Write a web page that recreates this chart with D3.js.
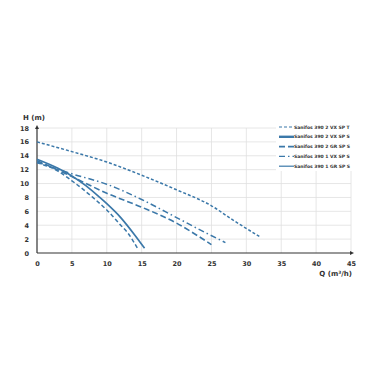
<!DOCTYPE html>
<html lang="en">
<head>
    <meta charset="UTF-8">
    <title>Sanifos curves</title>
    <script src="https://d3js.org/d3.v7.min.js"></script>
    <style>
        body { margin: 0; background: #fff; }
        text { font-family: 'DejaVu Sans', 'Open Sans', sans-serif; fill: #333; }
        .tick text { font-size: 6.5px; font-weight: 700; }
        .legend text { font-size: 4.5px; font-weight: 700; }
    </style>
</head>
<body>
<div id="chart"></div>
<script>
    // series data, [Q, H]
    const seriesNames = [
        "Sanifos 390 2 VX SP T",
        "Sanifos 390 2 VX SP S",
        "Sanifos 390 2 GR SP S",
        "Sanifos 390 1 VX SP S",
        "Sanifos 390 1 GR SP S"
    ];
    const vx2T = [[0, 16], [5, 14.6], [10, 13.1], [15, 11.2], [20, 9.1], [25, 6.8], [28, 4.8], [32, 2.3]];
    const vx2S = [[0, 13.5], [3, 12.2], [5, 11.1], [7, 9.7], [9, 8.0], [10, 7.1], [12, 5.1], [14, 2.6], [15.4, 0.7]];
    const gr2S = [[0, 13.3], [5, 11.0], [10, 8.6], [15, 6.6], [20, 4.3], [23, 2.5], [25, 1.2]];
    const vx1S = [[0, 13.1], [5, 11.4], [10, 9.9], [15, 7.7], [20, 5.1], [24, 3.0], [27, 1.5]];
    const gr1S = [[0, 13.0], [3, 11.8], [5, 10.4], [8, 8.0], [10, 6.2], [12, 4.0], [13, 2.9], [14.5, 0.5]];
    const seriesData = [vx2T, vx2S, gr2S, vx1S, gr1S];

    const xTicks = [0, 5, 10, 15, 20, 25, 30, 35, 40, 45];
    const yTicks = [0, 2, 4, 6, 8, 10, 12, 14, 16, 18];

    // styles per series (plot / legend)
    const dashes = ["3,2", null, "6,3", "6,3,1.5,3", "4,2.5"];
    const legendDashes = ["3,2", null, "6,3", "6,3,1.5,3", null];
    const widths = [1.5, 1.7, 1.6, 1.5, 1.5];
    const legendWidths = [1.2, 2.4, 1.6, 1.4, 1.2];
    const lineColor = "#3b78a9";

    const W = 378, H = 378;
    const svg = d3.select("#chart").append("svg")
        .attr("width", W).attr("height", H);

    const x = d3.scaleLinear().domain([0, 45]).range([37, 351]);
    const y = d3.scaleLinear().domain([0, 18]).range([253, 128]);

    // grid
    const grid = svg.append("g").attr("stroke", "#e0e0e0").attr("stroke-width", 0.8);
    grid.selectAll(".gx").data(xTicks.slice(1)).enter().append("line")
        .attr("x1", d => x(d)).attr("x2", d => x(d))
        .attr("y1", y(0)).attr("y2", y(18));
    grid.selectAll(".gy").data(yTicks.slice(1)).enter().append("line")
        .attr("x1", x(0)).attr("x2", x(45))
        .attr("y1", d => y(d)).attr("y2", d => y(d));

    // axes
    const xAxis = svg.append("g").attr("transform", `translate(0,${y(0)})`)
        .call(d3.axisBottom(x).tickValues(xTicks).tickSize(0).tickPadding(8));
    const yAxis = svg.append("g").attr("transform", `translate(${x(0)},0)`)
        .call(d3.axisLeft(y).tickValues(yTicks).tickSize(0).tickPadding(8));
    xAxis.select(".domain").remove();
    yAxis.select(".domain").remove();

    svg.append("line").attr("x1", x(0)).attr("x2", x(45) + 1)
        .attr("y1", y(0)).attr("y2", y(0)).attr("stroke", "#333").attr("stroke-width", 1.2);
    svg.append("line").attr("x1", x(0)).attr("x2", x(0))
        .attr("y1", y(0)).attr("y2", y(18) - 1).attr("stroke", "#333").attr("stroke-width", 1.2);
    // arrow heads
    svg.append("path")
        .attr("d", `M${x(45) + 3},${y(0)} l-4,-2 l0,4 z`).attr("fill", "#333");
    svg.append("path")
        .attr("d", `M${x(0)},${y(18) - 3} l-2,4 l4,0 z`).attr("fill", "#333");

    // axis titles
    svg.append("text").attr("x", 23).attr("y", 120)
        .style("font-size", "7px").style("font-weight", "700").text("H (m)");
    svg.append("text").attr("x", 352).attr("y", 276).attr("text-anchor", "end")
        .style("font-size", "7px").style("font-weight", "700").text("Q (m³/h)");

    // curves
    const line = d3.line()
        .x(d => x(d[0])).y(d => y(d[1]))
        .curve(d3.curveMonotoneX);

    svg.append("g").selectAll("path").data(seriesData).enter().append("path")
        .attr("d", line)
        .attr("fill", "none")
        .attr("stroke", lineColor)
        .attr("stroke-width", (d, i) => widths[i])
        .attr("stroke-dasharray", (d, i) => dashes[i]);

    // legend
    const legend = svg.append("g").attr("class", "legend");
    legend.append("rect").attr("x", 276).attr("y", 121).attr("width", 78).attr("height", 50)
        .attr("fill", "#fff");
    const item = legend.selectAll(".item").data(seriesNames).enter().append("g")
        .attr("transform", (d, i) => `translate(279,${127 + i * 9.8})`);
    item.append("line").attr("x1", 0).attr("x2", 15).attr("y1", 0).attr("y2", 0)
        .attr("stroke", lineColor)
        .attr("stroke-width", (d, i) => legendWidths[i])
        .attr("stroke-dasharray", (d, i) => legendDashes[i]);
    item.append("text").attr("x", 15).attr("y", 1.6).text(d => d);
</script>
</body>
</html>
